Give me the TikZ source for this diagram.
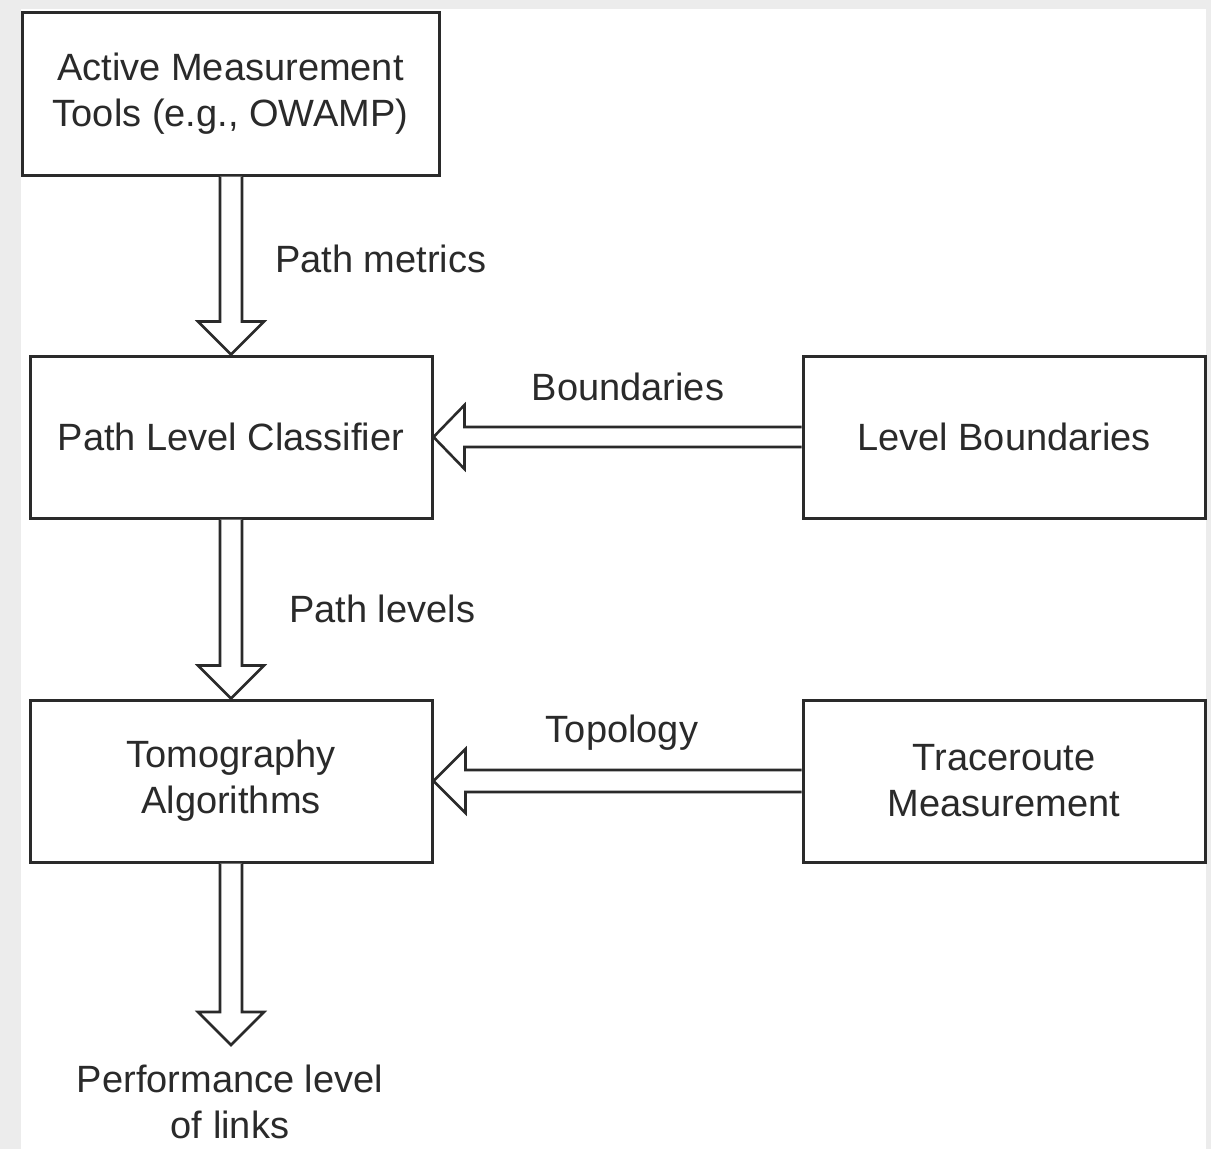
\documentclass[tikz,border=0pt]{standalone}
\usepackage{fontspec}
\setmainfont{Liberation Sans}
\usetikzlibrary{calc}
\definecolor{ink}{HTML}{2A2A2A}
\definecolor{bgrey}{HTML}{ECECEC}
\tikzset{
  box/.style={draw=ink, line width=3pt, fill=white, minimum width=402pt, minimum height=162pt, inner sep=0pt, align=center, text=ink, font=\fontsize{38}{46}\selectfont},
  lbl/.style={text=ink, inner sep=0pt, font=\fontsize{38}{46}\selectfont, align=center},
  blk/.style={draw=ink, line width=2.6pt, fill=white, line join=miter}
}
\begin{document}
\begin{tikzpicture}[x=1pt, y=-1pt]
\fill[bgrey] (0,0) rectangle (1211,1149);
\fill[white] (21,9) rectangle (1206,1149);
\useasboundingbox (0,0) rectangle (1211,1149);

\node[box, minimum width=417pt, minimum height=163pt] (A) at (230.5,93.5) {Active Measurement\\Tools (e.g., OWAMP)};
\node[box] (B) at (231,437) {Path Level Classifier};
\node[box] (C) at (1004,437) {Level Boundaries};
\node[box] (D) at (231,781) {Tomography\\Algorithms};
\node[box] (E) at (1004,781) {Traceroute\\Measurement};
\coordinate (out) at (231,1045);
\node[lbl] (perf) at (230,1102) {Performance level\\of links};

\node[lbl, anchor=west] (lm) at (275,259) {Path metrics};
\node[lbl, anchor=west] (ll) at (289,609) {Path levels};
\node[lbl] (lb) at (628,387) {Boundaries};
\node[lbl] (lt) at (622,733) {Topology};

% vertical block arrows
\draw[blk] ($(A.south)+(-10.5,0)$) -- ($(B.north)+(-11,-33)$) -- ($(B.north)+(-33,-33)$) -- (B.north) -- ($(B.north)+(33,-33)$) -- ($(B.north)+(11,-33)$) -- ($(A.south)+(11.5,0)$);
\draw[blk] ($(B.south)+(-11,0)$) -- ($(D.north)+(-11,-33)$) -- ($(D.north)+(-33,-33)$) -- (D.north) -- ($(D.north)+(33,-33)$) -- ($(D.north)+(11,-33)$) -- ($(B.south)+(11,0)$);
\draw[blk] ($(D.south)+(-11,0)$) -- ($(out)+(-11,-33)$) -- ($(out)+(-33,-33)$) -- (out) -- ($(out)+(33,-33)$) -- ($(out)+(11,-33)$) -- ($(D.south)+(11,0)$);

% horizontal block arrows
\draw[blk] ($(C.west)+(0,-10)$) -- ($(B.east)+(31,-10)$) -- ($(B.east)+(31,-32)$) -- (B.east) -- ($(B.east)+(31,32)$) -- ($(B.east)+(31,10)$) -- ($(C.west)+(0,10)$);
\draw[blk] ($(E.west)+(0,-11)$) -- ($(D.east)+(32,-11)$) -- ($(D.east)+(32,-32)$) -- (D.east) -- ($(D.east)+(32,32)$) -- ($(D.east)+(32,11)$) -- ($(E.west)+(0,11)$);
\end{tikzpicture}
\end{document}
